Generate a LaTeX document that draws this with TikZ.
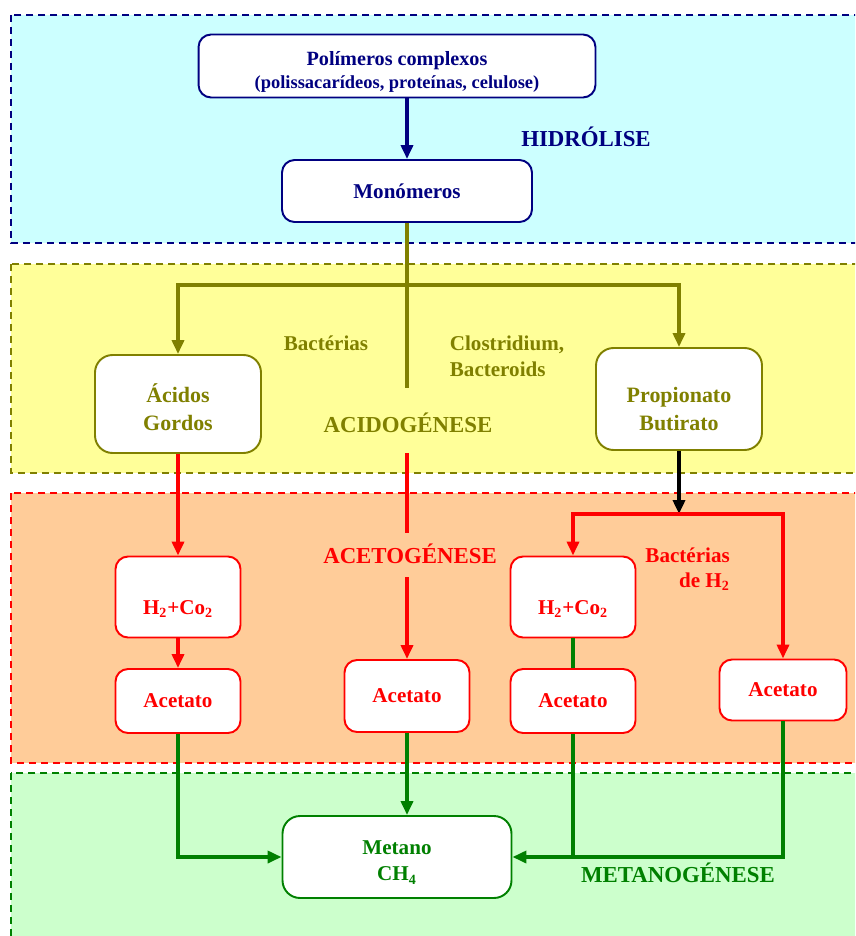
\documentclass[tikz,border=0pt]{standalone}
\usepackage{fontspec}
\setmainfont{Liberation Serif}
\usetikzlibrary{arrows.meta}
\definecolor{hidfill}{HTML}{CCFFFF}
\definecolor{acidfill}{HTML}{FFFF99}
\definecolor{acetfill}{HTML}{FFCC99}
\definecolor{metfill}{HTML}{CCFFCC}
\definecolor{hidcol}{HTML}{000080}
\definecolor{acidcol}{HTML}{808000}
\definecolor{acetcol}{HTML}{FF0000}
\definecolor{metcol}{HTML}{008000}
\begin{document}
\begin{tikzpicture}[x=0.02cm,y=-0.02cm,
  font=\bfseries\fontsize{12}{15}\selectfont,
  >={Triangle[length=0.28cm,width=0.24cm]},
  band/.style={dash pattern=on 0.14cm off 0.1cm,line width=0.9pt},
  box/.style={draw,fill=white,rounded corners=0.25cm,line width=1.1pt,align=center,inner sep=0pt},
  flow/.style={->,line width=2pt},
  link/.style={line width=2pt}]
\clip (0,0) rectangle (855,936);
\fill[white] (0,0) rectangle (855,936);
% fases
\draw[band,draw=hidcol,fill=hidfill] (11,15) rectangle (880,243);
\draw[band,draw=acidcol,fill=acidfill] (11,264) rectangle (880,473);
\draw[band,draw=acetcol,fill=acetfill] (11,493) rectangle (880,763);
\draw[band,draw=metcol,fill=metfill] (11,773) rectangle (880,960);

% hidrolise
\node[box,draw=hidcol,text=hidcol,minimum width=7.94cm,minimum height=1.26cm,text height=28pt] (poli) at (397,66)
  {\fontsize{11.5}{15}\selectfont Polímeros complexos\\[-2pt]
   \fontsize{10.5}{12}\selectfont (polissacarídeos, proteínas, celulose)};
\node[box,draw=hidcol,text=hidcol,minimum width=5cm,minimum height=1.24cm] (mono) at (407,191) {Monómeros};
\node[text=hidcol,font=\bfseries\fontsize{13}{15}\selectfont] (hidro) at (586,137) {HIDRÓLISE};

% acidogenese
\node[box,draw=acidcol,text=acidcol,rounded corners=0.35cm,minimum width=3.32cm,minimum height=1.96cm,
  font=\bfseries\fontsize{12.5}{16}\selectfont,text height=30pt] (acidos) at (178,404) {Ácidos\\Gordos};
\node[box,draw=acidcol,text=acidcol,rounded corners=0.35cm,minimum width=3.32cm,minimum height=2.04cm,
  font=\bfseries\fontsize{12.5}{16}\selectfont,text height=36pt] (prop) at (679,399) {Propionato\\Butirato};
\node[text=acidcol] (bact) at (326,343) {Bactérias};
\node[text=acidcol,align=left] (clost) at (507,356) {Clostridium,\\Bacteroids};
\node[text=acidcol,font=\bfseries\fontsize{13}{15}\selectfont] (acido) at (408,423) {ACIDOGÉNESE};
\coordinate (split) at (407,285);
\coordinate (acidend) at (407,388);

% acetogenese
\node[box,draw=acetcol,text=acetcol,minimum width=2.5cm,minimum height=1.62cm,text height=0.75cm,text depth=0.05cm] (hdoisa) at (178,597) {H\textsubscript{2}+Co\textsubscript{2}};
\node[box,draw=acetcol,text=acetcol,minimum width=2.5cm,minimum height=1.28cm] (aceta) at (178,701) {Acetato};
\node[box,draw=acetcol,text=acetcol,minimum width=2.5cm,minimum height=1.44cm] (acetb) at (407,696) {Acetato};
\node[box,draw=acetcol,text=acetcol,minimum width=2.5cm,minimum height=1.62cm,text height=0.75cm,text depth=0.05cm] (hdoisb) at (573,597) {H\textsubscript{2}+Co\textsubscript{2}};
\node[box,draw=acetcol,text=acetcol,minimum width=2.5cm,minimum height=1.28cm] (acetc) at (573,701) {Acetato};
\node[box,draw=acetcol,text=acetcol,minimum width=2.54cm,minimum height=1.22cm] (acetd) at (783,690) {Acetato};
\node[text=acetcol,font=\bfseries\fontsize{13}{15}\selectfont] (aceto) at (410,554) {ACETOGÉNESE};
\node[text=acetcol,align=right,anchor=east,font=\bfseries\fontsize{12}{14}\selectfont] (bacth) at (736,569) {Bactérias\\de H\textsubscript{2}};
\coordinate (acetotop) at (407,453);
\coordinate (acetogap) at (407,533);
\coordinate (acetolow) at (407,577);
\coordinate (redsplit) at (679,514);

% metanogenese
\node[box,draw=metcol,text=metcol,rounded corners=0.35cm,minimum width=4.58cm,minimum height=1.64cm,
  font=\bfseries\fontsize{12}{15}\selectfont,text height=29pt] (metano) at (397,857) {Metano\\CH\textsubscript{4}};
\node[text=metcol,font=\bfseries\fontsize{13}{15}\selectfont] (metan) at (678,873) {METANOGÉNESE};

% ligacoes
\draw[flow,hidcol] (mono.north |- poli.south) -- (mono.north);
\draw[link,acidcol] (mono.south) -- (acidend);
\draw[flow,acidcol] (split) -| (acidos.north);
\draw[flow,acidcol] (split) -| (prop.north);
\draw[flow,acetcol] (acidos) -- (hdoisa);
\draw[flow,acetcol] (hdoisa) -- (aceta);
\draw[link,acetcol] (acetotop) -- (acetogap);
\draw[flow,acetcol] (acetolow) -- (acetb.north);
\draw[flow,black] (prop.south -| redsplit) -- (redsplit);
\draw[link,acetcol,<->] (hdoisb.north) |- (redsplit) -| (acetd.north);
\draw[link,metcol] (hdoisb) -- (acetc);
\draw[flow,metcol] (aceta.south) |- (metano.west);
\draw[flow,metcol] (acetb.south) -- (acetb.south |- metano.north);
\draw[flow,metcol] (acetd.south) |- (metano.east);
\draw[link,metcol] (acetc.south) -- (acetc.south |- metano.east);
\end{tikzpicture}
\end{document}
